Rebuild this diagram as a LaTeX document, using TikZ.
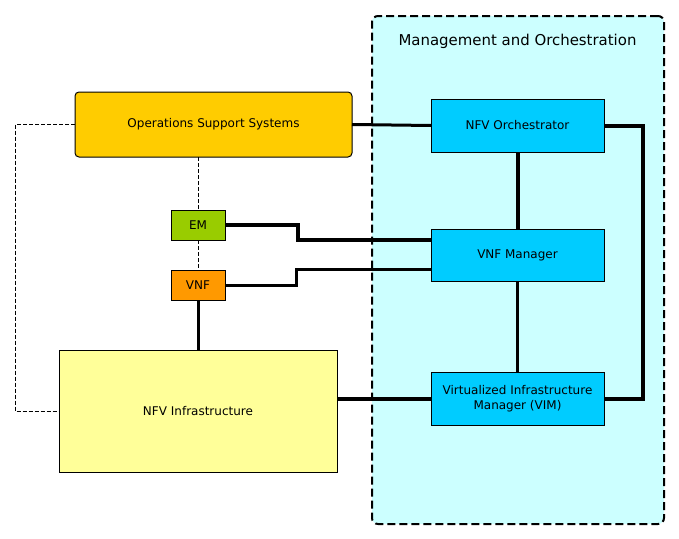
\documentclass[tikz,border=0pt]{standalone}
\usepackage{fontspec}
\setmainfont{DejaVu Sans}
\usetikzlibrary{calc}
\definecolor{manofill}{HTML}{CCFFFF}
\definecolor{ossfill}{HTML}{FFCC00}
\definecolor{bluefill}{HTML}{00CCFF}
\definecolor{nfvifill}{HTML}{FFFF99}
\definecolor{emfill}{HTML}{99CC00}
\definecolor{vnffill}{HTML}{FF9900}
\tikzset{
  sz/.style 2 args={minimum width=#1*0.75pt, minimum height=#2*0.75pt},
  box/.style={draw=black, line width=0.75pt, inner sep=0pt, outer sep=0pt, align=center,
    font=\fontsize{9}{11}\selectfont},
  l4/.style={line width=3pt},
  l3/.style={line width=2.25pt},
  thindash/.style={line width=0.75pt, dash pattern=on 3pt off 1.5pt},
}
\begin{document}
\begin{tikzpicture}[x=0.75pt,y=-0.75pt]
\useasboundingbox (0,0) rectangle (679,539);
\node[box, sz={292}{508}, fill=manofill, line width=1.5pt, dash pattern=on 6pt off 3pt,
  rounded corners=4.5pt] (mano) at (518,270) {};
\node[font=\fontsize{11.2}{13}\selectfont] (title) at (517.5,41) {Management and Orchestration};
\node[box, sz={277}{65}, fill=ossfill, rounded corners=3pt] (oss) at (213.5,124.5) {Operations Support Systems};
\node[box, sz={173}{53}, fill=bluefill] (orch) at (517.5,125.5) {NFV Orchestrator};
\node[box, sz={173}{52}, fill=bluefill] (vnfm) at (517.5,255) {VNF Manager};
\node[box, sz={173}{53}, fill=bluefill] (vim) at (517.5,398.5) {Virtualized Infrastructure\\Manager (VIM)};
\node[box, sz={278}{122}, fill=nfvifill] (nfvi) at (198,411) {NFV Infrastructure};
\node[box, sz={54}{30}, fill=emfill] (em) at (198,225) {EM};
\node[box, sz={54}{30}, fill=vnffill] (vnf) at (198,285) {VNF};
\draw[l3] (oss.east) -- (orch.west);
\draw[l4] (orch.east) -- ++(39,0) |- (vim.east);
\draw[l4] (orch.south) -- (vnfm.north);
\draw[l3] (vnfm.south) -- (vim.north);
\draw[l4] (em.east) -- ++(73,0) |- ($(vnfm.west)+(0,-15)$);
\draw[l3] (vnf.east) -- ++(71,0) |- ($(vnfm.west)+(0,14)$);
\draw[l3] (vnf.south) -- (vnf.south |- nfvi.north);
\draw[l4] (nfvi.east |- vim.west) -- (vim.west);
\draw[thindash] (em.north |- oss.south) -- (em.north);
\draw[thindash] (em.south) -- (vnf.north);
\draw[thindash] (oss.west) -- ++(-60,0) |- (nfvi.west);
\end{tikzpicture}
\end{document}
